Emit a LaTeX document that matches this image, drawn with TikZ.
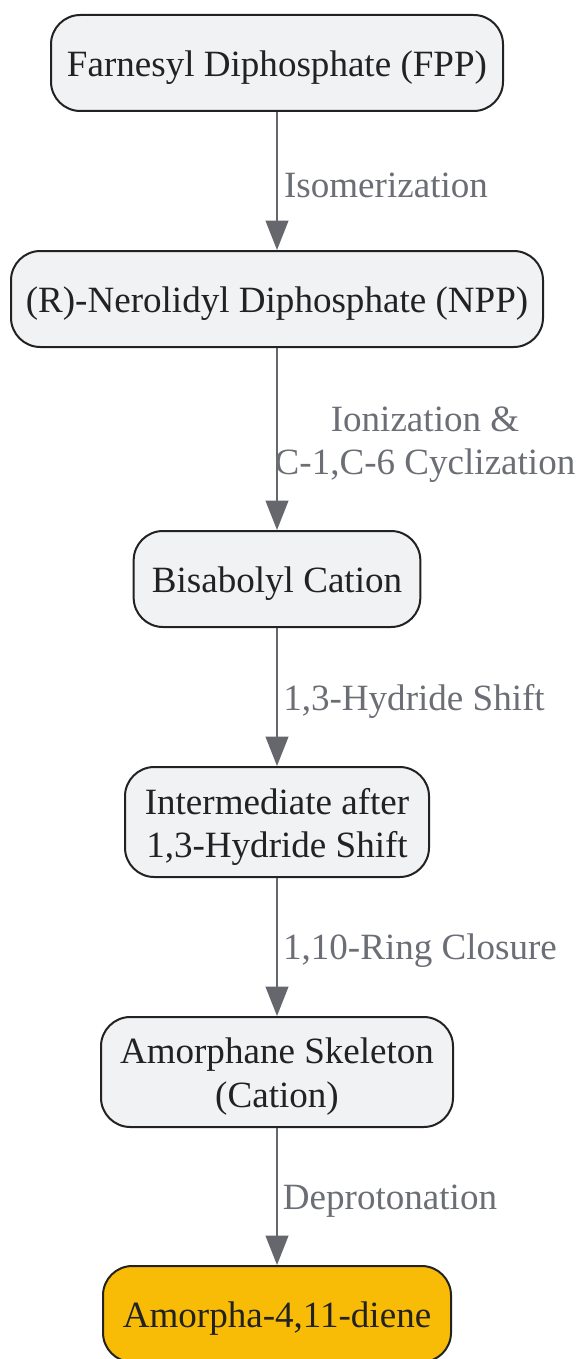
\documentclass[tikz,border=0pt]{standalone}
\usepackage{fontspec}
\setmainfont{Liberation Serif}
\usetikzlibrary{arrows.meta}
\definecolor{nodefill}{HTML}{F1F2F4}
\definecolor{nodedraw}{HTML}{222222}
\definecolor{edgecol}{HTML}{65676C}
\definecolor{labcol}{HTML}{6B6E75}
\definecolor{txtcol}{HTML}{222222}
\definecolor{finalfill}{HTML}{F9BC06}
\tikzset{
  stepbox/.style={draw=nodedraw, fill=nodefill, line width=1.5pt, rounded corners=22pt,
    inner sep=0pt, minimum height=72pt},
  boxtext/.style={text=txtcol, align=center, inner sep=0pt,
    font=\fontsize{27.8pt}{32.4pt}\selectfont},
  edgelab/.style={text=labcol, align=center, inner sep=0pt,
    font=\fontsize{27.8pt}{32.4pt}\selectfont},
  conn/.style={draw=edgecol, line width=1.5pt,
    -{Triangle[length=22pt,width=17pt]}}
}
\begin{document}
\begin{tikzpicture}[x=0.75pt,y=-0.75pt]
\useasboundingbox (0,0) rectangle (578,1359);
\node[stepbox, minimum width=339pt] (fpp) at (277,63) {};
\node[stepbox, minimum width=399pt] (npp) at (277,299) {};
\node[stepbox, minimum width=215pt] (bis) at (277,579) {};
\node[stepbox, minimum width=228pt, minimum height=82.5pt] (inter) at (277,822) {};
\node[stepbox, minimum width=264pt, minimum height=82.5pt] (amo) at (277,1072) {};
\node[stepbox, minimum width=261pt, fill=finalfill] (fin) at (277,1314) {};

\node[boxtext] (tfpp) at ([yshift=-3.5pt]fpp.center) {Farnesyl Diphosphate (FPP)};
\node[boxtext] (tnpp) at ([yshift=-3.5pt]npp.center) {(R)-Nerolidyl Diphosphate (NPP)};
\node[boxtext] (tbis) at ([yshift=-3.5pt]bis.center) {Bisabolyl Cation};
\node[boxtext] (tinter) at ([yshift=-3.5pt]inter.center) {Intermediate after\\1,3-Hydride Shift};
\node[boxtext] (tamo) at ([yshift=-3.5pt]amo.center) {Amorphane Skeleton\\(Cation)};
\node[boxtext] (tfin) at ([yshift=-3.5pt]fin.center) {Amorpha-4,11-diene};

\draw[conn] (fpp) -- (npp);
\draw[conn] (npp) -- (bis);
\draw[conn] (bis) -- (inter);
\draw[conn] (inter) -- (amo);
\draw[conn] (amo) -- (fin);

\node[edgelab] (l1) at (386,185) {Isomerization};
\node[edgelab] (l2) at (425,445) {Ionization \&\\C-1,C-6 Cyclization};
\node[edgelab] (l3) at (414,701) {1,3-Hydride Shift};
\node[edgelab] (l4) at (420,951) {1,10-Ring Closure};
\node[edgelab] (l5) at (390,1201) {Deprotonation};
\end{tikzpicture}
\end{document}
